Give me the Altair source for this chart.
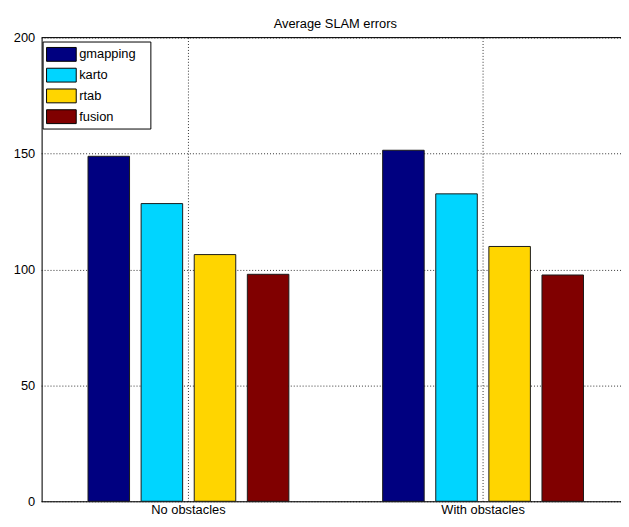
import altair as alt
import pandas as pd

categories = ["No obstacles", "With obstacles"]
methods = ["gmapping", "karto", "rtab", "fusion"]
no_obstacles = [148.8, 128.4, 106.4, 97.9]
with_obstacles = [151.4, 132.6, 109.9, 97.6]
colors = ["#000080", "#00D5FF", "#FFD500", "#800000"]
y_ticks = [0, 50, 100, 150, 200]
title_text = "Average SLAM errors"

rows = []
for cat, vals in zip(categories, [no_obstacles, with_obstacles]):
    for m, v in zip(methods, vals):
        rows.append({"condition": cat, "method": m, "error": v})
df = pd.DataFrame(rows)

FONT = "Liberation Sans"

bars = alt.Chart(df).mark_bar(stroke="#1a1a1a", strokeWidth=1, opacity=1).encode(
    x=alt.X(
        "condition:N", sort=categories, title=None,
        scale=alt.Scale(range=[-0.5, 595.5], paddingInner=0, paddingOuter=0),
        axis=alt.Axis(labelAngle=0, labelFontSize=13, labelFont=FONT, labelColor="black",
                      ticks=False, tickSize=0, labelPadding=2, domainColor="black",
                      grid=True, gridDash=[1, 2], gridColor="#333333", gridOpacity=1,
                      bandPosition=0.5),
    ),
    xOffset=alt.XOffset("method:N", sort=methods,
                        scale=alt.Scale(paddingInner=0.218, paddingOuter=0.883)),
    y=alt.Y(
        "error:Q", title=None,
        scale=alt.Scale(domain=[0, 200], nice=False),
        axis=alt.Axis(values=y_ticks, labelFontSize=13, labelFont=FONT, labelColor="black",
                      ticks=False, tickSize=0, labelPadding=7, domainColor="black",
                      grid=True, gridDash=[1, 2], gridColor="#333333", gridOpacity=1),
    ),
    color=alt.Color(
        "method:N", sort=methods,
        scale=alt.Scale(domain=methods, range=colors),
        legend=alt.Legend(
            title=None, orient="none", legendX=1, legendY=4, direction="vertical",
            symbolType="M-0.857,-0.6667H2V0.6667H-0.857Z M8.76,0Z", symbolSize=441,
            symbolStrokeColor="black", symbolStrokeWidth=1, symbolOpacity=1,
            labelFontSize=13, labelFont=FONT, labelColor="black", labelOffset=13,
            rowPadding=0, padding=2, strokeColor="black", fillColor="white",
        ),
    ),
)

top_border = alt.Chart(pd.DataFrame({"y": [200]})).mark_rule(color="black", strokeWidth=1).encode(
    y=alt.Y("y:Q")
)

chart = alt.layer(bars, top_border).properties(
    width=586,
    height=469,
    title=alt.TitleParams(title_text, fontSize=13, font=FONT, fontWeight="normal",
                          color="black", offset=1, dx=4, anchor="middle"),
    autosize=alt.AutoSizeParams(type="none"),
    padding={"left": 34, "top": 27, "right": 0, "bottom": 15},
).configure_view(stroke=None).configure(background="white")

chart.save("out.html", embed_options={"renderer": "svg", "actions": False})
